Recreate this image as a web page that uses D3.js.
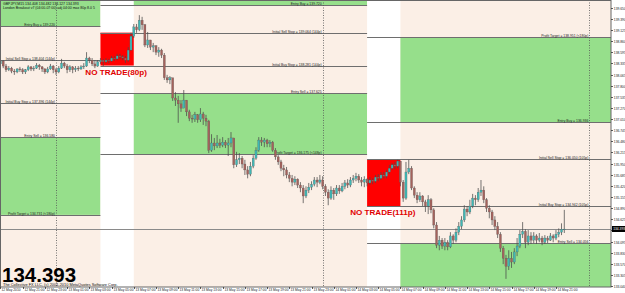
<!DOCTYPE html>
<html><head><meta charset="utf-8">
<script src="https://cdn.jsdelivr.net/npm/d3@7"></script>
<style>html,body{margin:0;padding:0;background:#fff;overflow:hidden}svg{display:block}</style>
</head><body>
<svg id="c" width="625" height="293"></svg>
<script>
const symbolLine = "GBPJPY,M15  134.408 134.482 134.127 134.393";
const indicatorLine = "London Breakout v7 (04:00-07:00) adj 04:00 max 80p 8.0 5";
const bigPrice = "134.393";
const copyrightLine = "The Collective FX LLC, (c) 2001-2010 MetaQuotes Software Corp.";
const firstBarTime = new Date(2010, 4, 12, 19, 0);
const firstOpen = 138.32;
const closes = [138.39,138.27,138.18,138.22,138.15,138.13,138.20,138.18,138.13,138.18,138.25,138.20,
138.22,138.29,138.25,138.20,138.13,138.20,138.27,138.18,138.13,138.22,138.34,138.27,
138.18,138.25,138.18,138.22,138.20,138.25,138.27,138.46,138.41,138.32,138.27,138.37,
138.41,138.37,138.41,138.39,138.46,138.44,138.51,138.49,138.46,138.41,138.65,138.98,
139.20,139.13,139.36,139.25,138.77,138.89,138.72,138.75,138.60,138.65,138.53,137.99,
137.94,137.99,137.51,137.46,137.37,137.27,137.46,137.18,137.03,137.01,137.11,136.99,
137.13,137.03,136.96,136.27,136.44,136.37,136.44,136.39,136.46,136.39,136.44,136.56,
135.92,136.04,136.08,135.94,135.80,135.70,135.89,136.08,136.27,136.51,136.46,136.51,
136.42,136.46,136.27,136.11,135.99,135.84,135.80,135.68,135.60,135.51,135.58,135.44,
135.37,135.18,135.32,135.39,135.46,135.56,135.51,135.56,135.41,135.27,135.13,135.32,
135.23,135.37,135.30,135.41,135.49,135.44,135.56,135.60,135.65,135.56,135.51,135.58,
135.49,135.56,135.53,135.63,135.60,135.68,135.65,135.75,135.84,135.92,135.89,136.01,
135.51,135.13,135.75,135.84,135.37,135.20,135.09,135.18,135.04,134.94,135.09,134.85,
134.49,134.01,134.13,133.99,134.08,133.97,134.23,134.13,134.32,134.46,134.61,134.87,
134.80,134.94,135.13,135.09,135.27,135.32,135.09,134.89,134.80,134.61,134.46,134.27,
133.94,133.70,133.51,133.70,133.61,133.85,133.99,134.27,134.34,134.08,134.23,134.13,
134.23,134.13,134.18,134.08,134.18,134.13,134.23,134.18,134.27,134.32,134.39,134.393];
const highs = [138.44,138.41,138.32,138.27,138.25,138.20,138.22,138.25,138.22,138.20,138.29,138.27,
138.27,138.34,138.32,138.27,138.22,138.25,138.32,138.29,138.22,138.27,138.44,138.37,
138.32,138.29,138.27,138.27,138.27,138.29,138.34,138.60,138.49,138.46,138.41,138.41,
138.46,138.44,138.46,138.44,138.51,138.51,138.56,138.56,138.53,138.51,138.72,139.06,
139.27,139.27,139.48,139.44,139.27,139.08,138.89,138.82,138.77,138.72,138.68,138.58,
138.06,138.03,137.94,137.65,137.56,137.46,137.70,137.46,137.23,137.11,137.18,137.13,
137.27,137.18,137.11,136.99,136.65,136.56,136.63,136.54,136.58,136.51,136.56,136.70,
136.56,136.23,136.20,136.13,136.04,135.89,135.99,136.15,136.34,136.58,136.58,136.56,
136.54,136.51,136.49,136.32,136.15,136.04,135.92,135.87,135.75,135.68,135.65,135.60,
135.51,135.44,135.41,135.49,135.53,135.63,135.63,135.68,135.65,135.46,135.34,135.41,
135.37,135.44,135.44,135.49,135.56,135.58,135.63,135.68,135.73,135.70,135.63,135.65,
135.60,135.63,135.60,135.68,135.70,135.75,135.75,135.80,135.92,135.96,135.99,136.04,
136.01,135.56,135.99,136.04,135.89,135.41,135.27,135.27,135.20,135.09,135.20,135.13,
134.89,134.56,134.23,134.18,134.18,134.13,134.32,134.27,134.41,134.56,134.70,134.96,
134.94,135.09,135.23,135.20,135.37,135.56,135.41,135.13,134.96,134.85,134.70,134.56,
134.32,133.99,133.78,133.89,133.85,133.94,134.18,134.37,134.56,134.39,134.37,134.32,
134.32,134.27,134.30,134.23,134.25,134.23,134.30,134.27,134.37,134.41,134.53,134.85];
const lows = [138.27,138.22,138.13,138.15,138.10,138.06,138.10,138.13,138.08,138.08,138.15,138.15,
138.15,138.20,138.18,138.13,138.08,138.10,138.18,138.10,138.06,138.10,138.20,138.22,
138.10,138.13,138.10,138.13,138.15,138.18,138.20,138.25,138.34,138.27,138.22,138.25,
138.32,138.27,138.34,138.34,138.37,138.39,138.41,138.44,138.41,138.34,138.37,138.63,
138.94,139.06,139.10,139.13,138.72,138.70,138.65,138.60,138.53,138.49,138.46,137.94,
137.87,137.84,137.44,137.32,136.92,137.18,137.27,137.08,136.96,136.92,136.94,136.92,
136.94,136.87,136.84,136.20,136.23,136.27,136.32,136.32,136.34,136.32,136.13,136.34,
135.84,135.87,135.94,135.84,135.68,135.60,135.65,135.84,136.04,136.23,136.37,136.34,
136.34,136.34,136.23,136.04,135.92,135.77,135.65,135.60,135.51,135.41,135.44,135.37,
135.27,135.01,135.13,135.25,135.32,135.41,135.39,135.46,135.34,135.18,134.96,135.09,
135.09,135.18,135.23,135.27,135.34,135.37,135.39,135.49,135.53,135.49,135.41,135.39,
135.41,135.44,135.46,135.49,135.53,135.56,135.60,135.60,135.70,135.80,135.82,135.84,
135.41,135.04,135.09,135.70,135.32,135.13,135.01,135.04,134.94,134.80,134.75,134.77,
134.41,133.94,133.89,133.92,133.89,133.89,133.94,134.04,134.08,134.25,134.39,134.56,
134.70,134.75,134.89,134.96,135.04,135.18,135.01,134.80,134.65,134.49,134.37,134.18,
133.85,133.56,133.21,133.42,133.47,133.56,133.75,133.94,134.18,133.94,134.01,134.04,
134.06,134.04,134.08,134.01,134.04,134.06,134.11,134.08,134.13,134.20,134.25,134.30];

const sessionDays = [new Date(2010,4,12), new Date(2010,4,13), new Date(2010,4,14)];
const entryBuy   = [139.220, 139.720, 136.936];
const buyTarget  = [141.070, 141.520, 138.951];
const sellStop   = [138.404, 139.064, 136.050];
const buyStop    = [137.396, 138.281, 134.942];
const entrySell  = [136.580, 137.625, 134.056];
const sellTarget = [134.731, 136.175, 132.040];
const stopPips   = ["(144p)", "(144p)", "(105p)"];
const targetPips = ["(<180p)", "(<148p)", "(<180p)"];
const noTradeLabels = [null, "NO TRADE(80p)", "NO TRADE(111p)"];
const bidPrice = 134.393;
const yTickValues = [139.650,139.390,139.125,138.860,138.595,138.335,138.065,137.800,137.535,137.270,
137.010,136.745,136.480,136.215,135.950,135.685,135.420,135.155,134.890,134.625,134.360,134.095,
133.830,133.570,133.305,133.040];
const xTickLabels = ["12 May 2010","12 May 21:00","12 May 23:00","13 May 01:00","13 May 03:00","13 May 05:00",
"13 May 07:00","13 May 09:00","13 May 11:00","13 May 13:00","13 May 15:00","13 May 17:00","13 May 19:00",
"13 May 21:00","13 May 23:00","14 May 01:00","14 May 03:00","14 May 05:00","14 May 07:00","14 May 09:00",
"14 May 11:00","14 May 13:00","14 May 15:00","14 May 17:00","14 May 19:00","14 May 21:00"];

const W = 625, H = 293, PW = 611, PH = 287;
const HOUR = 3600e3;
const svg = d3.select("#c");
const x = d3.scaleTime().domain([new Date(2010,4,13,0,0), new Date(2010,4,15,0,0)]).range([56, 589.3]);
const y = d3.scaleLinear().domain([133.040, 139.650]).range([286, 8]);
const tAt = (day, h) => new Date(day.getTime() + h * HOUR);
const font = "'Liberation Sans', Arial, sans-serif";

svg.append("rect").attr("width", W).attr("height", H).attr("fill", "#ffffff");
svg.append("defs").append("clipPath").attr("id", "pc").append("rect").attr("width", PW).attr("height", PH);
const g = svg.append("g").attr("clip-path", "url(#pc)");
g.append("rect").attr("width", PW).attr("height", PH).attr("fill", "#fbefe6");

// range columns and zones
sessionDays.forEach((d, i) => {
  g.append("rect").attr("x", x(tAt(d,4))).attr("width", x(tAt(d,7)) - x(tAt(d,4)))
    .attr("y", 0).attr("height", PH).attr("fill", "#ffffff");
  const zx0 = x(tAt(d,7)), zx1 = x(tAt(d,28));
  g.append("rect").attr("x", zx0).attr("width", zx1 - zx0)
    .attr("y", y(buyTarget[i])).attr("height", y(entryBuy[i]) - y(buyTarget[i])).attr("fill", "#96df8b");
  g.append("rect").attr("x", zx0).attr("width", zx1 - zx0)
    .attr("y", y(entrySell[i])).attr("height", y(sellTarget[i]) - y(entrySell[i])).attr("fill", "#96df8b");
  if (noTradeLabels[i]) {
    g.append("rect").attr("x", x(tAt(d,4))).attr("width", x(tAt(d,7)) - x(tAt(d,4)))
      .attr("y", y(sellStop[i])).attr("height", y(buyStop[i]) - y(sellStop[i])).attr("fill", "#ff0000");
  }
});

// level lines
sessionDays.forEach((d, i) => {
  const lx0 = x(tAt(d,4)), lx1 = x(tAt(d,28));
  const levels = [
    [buyTarget[i], "Profit Target = " + buyTarget[i].toFixed(3) + " " + targetPips[i]],
    [entryBuy[i], "Entry Buy = " + entryBuy[i].toFixed(3)],
    [sellStop[i], "Initial Sell Stop = " + sellStop[i].toFixed(3) + " " + stopPips[i]],
    [buyStop[i], "Initial Buy Stop = " + buyStop[i].toFixed(3) + " " + stopPips[i]],
    [entrySell[i], "Entry Sell = " + entrySell[i].toFixed(3)],
    [sellTarget[i], "Profit Target = " + sellTarget[i].toFixed(3) + " " + targetPips[i]]
  ];
  levels.forEach(([v, txt]) => {
    const ly = Math.round(y(v)) + 0.5;
    if (ly < 0 || ly > PH) return;
    g.append("line").attr("x1", lx0).attr("x2", lx1).attr("y1", ly).attr("y2", ly)
      .attr("stroke", "#6e6e6e").attr("stroke-width", 1);
    g.append("text").attr("x", x(tAt(d,24)) - 1).attr("y", Math.max(3.6, ly - 1))
      .attr("text-anchor", "end").attr("font-family", font).attr("font-size", 3.4).attr("fill", "#222").text(txt);
  });
});

// day separators
[new Date(2010,4,13), new Date(2010,4,14), new Date(2010,4,15)].forEach(d => {
  g.append("line").attr("x1", Math.round(x(d)) + 0.5).attr("x2", Math.round(x(d)) + 0.5).attr("y1", 0).attr("y2", PH)
    .attr("stroke", "#555").attr("stroke-width", 0.8).attr("stroke-dasharray", "1,1.5");
});

// bid line
g.append("line").attr("x1", 0).attr("x2", PW).attr("y1", Math.round(y(bidPrice)) + 0.5).attr("y2", Math.round(y(bidPrice)) + 0.5)
  .attr("stroke", "#8a8a8a").attr("stroke-width", 1);

// candles
const bars = closes.map((c, i) => {
  const o = i === 0 ? firstOpen : closes[i - 1];
  return { t: new Date(firstBarTime.getTime() + i * 15 * 60e3), o, c,
    h: Math.max(highs[i], o, c), l: Math.min(lows[i], o, c) };
});
const cg = g.append("g");
cg.selectAll("line.w").data(bars).join("line").attr("class", "w")
  .attr("x1", d => x(d.t)).attr("x2", d => x(d.t))
  .attr("y1", d => y(d.h)).attr("y2", d => y(d.l))
  .attr("stroke", "#4a4a4a").attr("stroke-width", 0.75);
cg.selectAll("rect.b").data(bars).join("rect").attr("class", "b")
  .attr("x", d => x(d.t) - 1.05).attr("width", 2.1)
  .attr("y", d => y(Math.max(d.o, d.c)))
  .attr("height", d => Math.max(0.8, Math.abs(y(d.o) - y(d.c))))
  .attr("fill", d => d.c >= d.o ? "#3fb7b5" : "#a4625c")
  .attr("stroke", "#555").attr("stroke-width", 0.25);

// no trade labels
sessionDays.forEach((d, i) => {
  if (!noTradeLabels[i]) return;
  g.append("text").attr("x", (x(tAt(d,4)) + x(tAt(d,7))) / 2 - 1).attr("y", y(buyStop[i]) + 9)
    .attr("text-anchor", "middle").attr("font-family", font).attr("font-weight", "bold")
    .attr("font-size", 8.1).attr("fill", "#e00000").text(noTradeLabels[i]);
});

// header texts
g.append("text").attr("x", 3).attr("y", 4.6).attr("font-family", font).attr("font-size", 3.5).attr("fill", "#111").text(symbolLine);
g.append("text").attr("x", 3).attr("y", 8.8).attr("font-family", font).attr("font-size", 3.5).attr("fill", "#111").text(indicatorLine);
g.append("text").attr("x", 2).attr("y", 281.5).attr("font-family", font).attr("font-weight", "bold").attr("font-size", 20.5).attr("fill", "#000").text(bigPrice);
g.append("text").attr("x", 3).attr("y", 286.3).attr("font-family", font).attr("font-size", 3.9).attr("fill", "#111").text(copyrightLine);

// frame
svg.append("rect").attr("x", 0.5).attr("y", 0.5).attr("width", PW - 0.5).attr("height", PH - 0.5)
  .attr("fill", "none").attr("stroke", "#666").attr("stroke-width", 1);

// right axis
const ra = svg.append("g");
yTickValues.forEach(v => {
  const yy = Math.round(y(v)) + 0.5;
  ra.append("line").attr("x1", PW).attr("x2", PW + 2).attr("y1", yy).attr("y2", yy).attr("stroke", "#333").attr("stroke-width", 0.8);
  ra.append("text").attr("x", PW + 2.8).attr("y", yy + 1.2).attr("font-family", font).attr("font-size", 3.3).attr("fill", "#222").text(v.toFixed(3));
});
const by = Math.round(y(bidPrice));
ra.append("rect").attr("x", PW + 1).attr("y", by - 3).attr("width", 13).attr("height", 6).attr("fill", "#000");
ra.append("text").attr("x", PW + 2.2).attr("y", by + 1.2).attr("font-family", font).attr("font-size", 3.3).attr("fill", "#fff").text(bidPrice.toFixed(3));

// bottom axis
const ba = svg.append("g");
xTickLabels.forEach((lab, i) => {
  const tx = Math.round(x(new Date(firstBarTime.getTime() + i * 2 * HOUR))) + 0.5;
  ba.append("line").attr("x1", tx).attr("x2", tx).attr("y1", PH).attr("y2", PH + 2).attr("stroke", "#333").attr("stroke-width", 0.8);
  ba.append("text").attr("x", tx + 1).attr("y", PH + 4.3).attr("font-family", font).attr("font-size", 3.3).attr("fill", "#222").text(lab);
});
</script>
</body></html>
